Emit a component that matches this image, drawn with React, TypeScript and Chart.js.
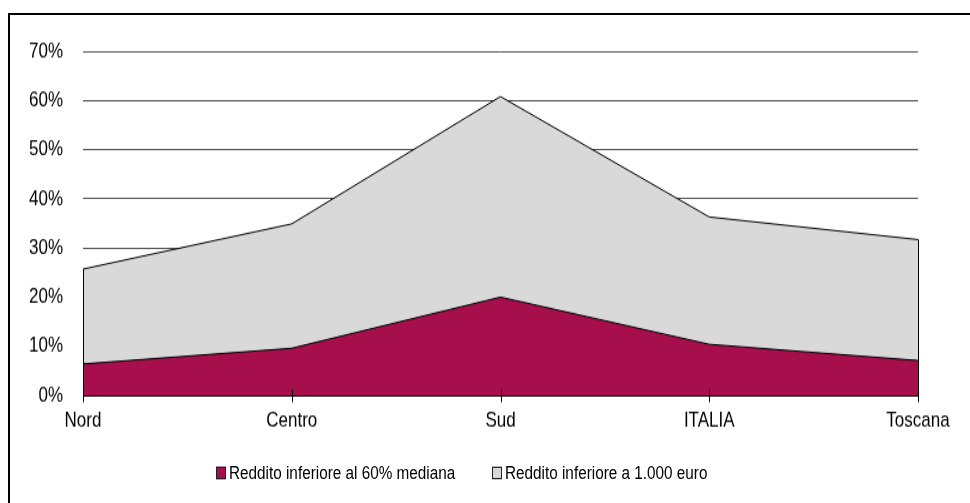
import React, { useEffect, useRef } from 'react';
import { Chart, registerables } from 'chart.js';

Chart.register(...registerables);

const categories = ['Nord', 'Centro', 'Sud', 'ITALIA', 'Toscana'];
const below60Median = [6.4, 9.6, 20.0, 10.4, 7.1];
const below1000Euro = [25.7, 34.9, 60.8, 36.3, 31.7];
const seriesNames = ['Reddito inferiore al 60% mediana', 'Reddito inferiore a 1.000 euro'];
const seriesColors = ['#A60F4B', '#D9D9D9'];
const yMin = 0;
const yMax = 70;
const yStep = 10;

const FONT = "'Liberation Sans', Arial, sans-serif";
const W = 970;
const H = 503;
const LH = 402; // logical height, stretched vertically to H
const K = H / LH;

const edgePlugin = {
  id: 'edgesAndTicks',
  afterDatasetsDraw(chart: any) {
    const { ctx, scales } = chart;
    const x = scales.x;
    const y = scales.y;
    const y0 = y.getPixelForValue(0);
    ctx.save();
    ctx.strokeStyle = '#000';
    ctx.lineWidth = 1;
    const n = categories.length;
    [0, n - 1].forEach((i) => {
      const px = Math.round(x.getPixelForValue(i)) + 0.5;
      ctx.beginPath();
      ctx.moveTo(px, y0);
      ctx.lineTo(px, y.getPixelForValue(below1000Euro[i]));
      ctx.stroke();
    });
    for (let i = 0; i < n; i++) {
      const px = Math.round(x.getPixelForValue(i)) + 0.5;
      ctx.beginPath();
      ctx.moveTo(px, y0 - 5);
      ctx.lineTo(px, y0 + 5.5);
      ctx.stroke();
    }
    ctx.restore();
  },
};

export default function App() {
  const ref = useRef<HTMLCanvasElement | null>(null);

  useEffect(() => {
    if (!ref.current) return;
    const chart = new Chart(ref.current, {
      type: 'line',
      data: {
        labels: categories,
        datasets: [
          {
            label: seriesNames[0],
            data: below60Median,
            backgroundColor: seriesColors[0],
            borderColor: '#000',
            borderWidth: 1,
            fill: 'origin',
            pointRadius: 0,
            tension: 0,
          },
          {
            label: seriesNames[1],
            data: below1000Euro,
            backgroundColor: seriesColors[1],
            borderColor: '#000',
            borderWidth: 1,
            fill: 'origin',
            pointRadius: 0,
            tension: 0,
          },
        ],
      },
      options: {
        responsive: false,
        animation: false,
        events: [],
        layout: { padding: { left: 0, right: 52, top: 41, bottom: 0 } },
        plugins: {
          legend: { display: false },
          tooltip: { enabled: false },
        },
        scales: {
          x: {
            offset: false,
            grid: { display: false, drawTicks: false },
            border: { display: true, color: '#000', width: 1 },
            ticks: {
              color: '#000',
              padding: 10.5,
              maxRotation: 0,
              autoSkip: false,
              font: { family: FONT, size: 17 },
            },
            afterFit(scale: any) {
              scale.height = 86;
            },
          },
          y: {
            min: yMin,
            max: yMax,
            grid: { color: '#3a3a3a', lineWidth: 0.9, drawTicks: false },
            border: { display: false },
            ticks: {
              stepSize: yStep,
              color: '#000',
              padding: 20,
              font: { family: FONT, size: 17 },
              callback: (v: any) => `${v}%`,
            },
            afterFit(scale: any) {
              scale.width = 83;
            },
          },
        },
      },
      plugins: [edgePlugin],
    });
    return () => chart.destroy();
  }, []);

  const legendItem = (i: number, left: number) => (
    <div
      key={i}
      style={{
        position: 'absolute',
        left,
        top: 370,
        height: 16,
        display: 'flex',
        alignItems: 'center',
        whiteSpace: 'nowrap',
      }}
    >
      <div
        style={{
          width: 10,
          height: 10,
          boxSizing: 'border-box',
          background: seriesColors[i],
          border: '1px solid #222',
          marginRight: 3,
        }}
      />
      <span style={{ fontFamily: FONT, fontSize: 15.3, lineHeight: '16px', color: '#000' }}>
        {seriesNames[i]}
      </span>
    </div>
  );

  return (
    <div style={{ position: 'absolute', left: 0, top: 0, width: W, height: H, overflow: 'hidden', background: '#fff' }}>
      <div
        style={{
          position: 'absolute',
          left: 0,
          top: 0,
          width: W,
          height: LH,
          transform: `scaleY(${K})`,
          transformOrigin: '0 0',
        }}
      >
        <canvas ref={ref} width={W} height={LH} style={{ position: 'absolute', left: 0, top: 0, width: W, height: LH }} />
        {legendItem(0, 216)}
        {legendItem(1, 492)}
      </div>
      <div
        style={{
          position: 'absolute',
          left: 8,
          top: 13,
          width: 1000,
          height: 600,
          borderTop: '2px solid #000',
          borderLeft: '2px solid #000',
          pointerEvents: 'none',
        }}
      />
    </div>
  );
}
